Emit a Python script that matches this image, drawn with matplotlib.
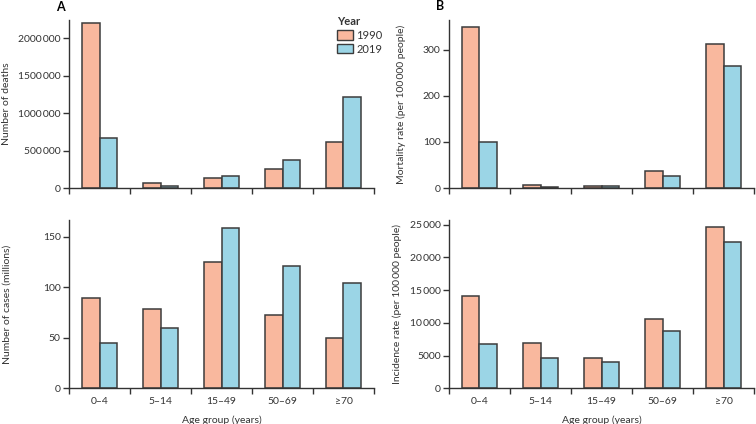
import numpy as np
import matplotlib
matplotlib.use("Agg")
import matplotlib.pyplot as plt
from matplotlib.patches import Patch

plt.rcParams['font.family'] = ['Lato', 'DejaVu Sans']
plt.rcParams['font.size'] = 7.5

# donnees
age_groups = ["0\u20134", "5\u201314", "15\u201349", "50\u201369", "\u226570"]
years = ["1990", "2019"]

deaths_1990 = [2200000, 71000, 137000, 249000, 618000]
deaths_2019 = [662000, 31000, 164000, 373000, 1218000]

mort_1990 = [349, 6, 5, 36.5, 312]
mort_2019 = [101, 3, 4, 27, 264]

cases_1990 = [89.5, 78.5, 125, 72.5, 49.5]
cases_2019 = [44.5, 59.5, 159, 121.5, 104]

inc_1990 = [14050, 7000, 4600, 10650, 24650]
inc_2019 = [6800, 4600, 4080, 8770, 22350]

deaths_ticks = [0, 500000, 1000000, 1500000, 2000000]
deaths_ticklabels = ["0", "500\u2009000", "1000\u2009000", "1500\u2009000", "2000\u2009000"]
mort_ticks = [0, 100, 200, 300]
cases_ticks = [0, 50, 100, 150]
inc_ticks = [0, 5000, 10000, 15000, 20000, 25000]
inc_ticklabels = ["0", "5000", "10\u2009000", "15\u2009000", "20\u2009000", "25\u2009000"]

col_1990 = "#f9b89e"
col_2019 = "#9bd5e6"
edge = "#3c3c3c"
txt = "#333333"

fig = plt.figure(figsize=(7.56, 4.24), dpi=100)

panels = [
    # (rect, v1990, v2019, ylim, ticks, ticklabels, ylabel, xlabels, ylabel x)
    ([0.0913, 0.5566, 0.4034, 0.3962], deaths_1990, deaths_2019, 2.24e6, deaths_ticks, deaths_ticklabels, "Number of deaths", False, -0.19),
    ([0.5939, 0.5566, 0.4035, 0.3962], mort_1990, mort_2019, 365, mort_ticks, None, "Mortality rate (per 100\u2009000 people)", False, -0.14),
    ([0.0913, 0.0842, 0.4034, 0.3975], cases_1990, cases_2019, 167, cases_ticks, None, "Number of cases (millions)", True, -0.19),
    ([0.5939, 0.0842, 0.4035, 0.3975], inc_1990, inc_2019, 25760, inc_ticks, inc_ticklabels, "Incidence rate (per 100\u2009000 people)", True, -0.155),
]

x = np.arange(len(age_groups)) + 0.5
w = 0.28
axes = []
for rect, v1, v2, ymax, ticks, tlabels, ylab, show_x, lx in panels:
    ax = fig.add_axes(rect)
    ax.bar(x - w / 2, v1, width=w, color=col_1990, edgecolor=edge, linewidth=1.1)
    ax.bar(x + w / 2, v2, width=w, color=col_2019, edgecolor=edge, linewidth=1.1)
    ax.set_xlim(0, len(age_groups))
    ax.set_ylim(0, ymax)
    ax.spines['top'].set_visible(False)
    ax.spines['right'].set_visible(False)
    ax.spines['left'].set_bounds(0, ymax)
    for s in ['left', 'bottom']:
        ax.spines[s].set_color(txt)
        ax.spines[s].set_linewidth(1.0)
    ax.set_yticks(ticks)
    if tlabels is not None:
        ax.set_yticklabels(tlabels)
    ax.set_xticks(np.arange(len(age_groups) + 1))
    ax.set_xticklabels([])
    ax.set_xticks(x, minor=True)
    ax.tick_params(axis='x', which='major', length=4, width=1, color=txt, direction='out')
    ax.tick_params(axis='x', which='minor', length=0, pad=6)
    ax.tick_params(axis='y', length=4, width=1, color=txt, labelcolor=txt, pad=2)
    if show_x:
        ax.set_xticklabels(age_groups, minor=True, color=txt)
        ax.set_xlabel("Age group (years)", color=txt, labelpad=7)
    ax.set_ylabel(ylab, color=txt)
    ax.yaxis.set_label_coords(lx, 0.5)
    axes.append(ax)

fig.text(0.074, 0.983, "A", fontsize=9, fontweight='bold', va='center', ha='left')
fig.text(0.577, 0.985, "B", fontsize=9, fontweight='bold', va='center', ha='left')

handles = [Patch(facecolor=col_1990, edgecolor=edge, linewidth=1.0),
           Patch(facecolor=col_2019, edgecolor=edge, linewidth=1.0)]
leg = axes[0].legend(handles, years, title="Year", loc='upper left',
                     bbox_to_anchor=(0.865, 1.05), frameon=False,
                     handlelength=1.4, handleheight=0.9, handletextpad=0.3,
                     labelspacing=0.25, fontsize=8, title_fontsize=8, borderaxespad=0)
leg.get_title().set_fontweight('bold')
leg.get_title().set_color(txt)
for t in leg.get_texts():
    t.set_color(txt)
leg._legend_box.align = "left"

fig.savefig("out.png", dpi=100)
